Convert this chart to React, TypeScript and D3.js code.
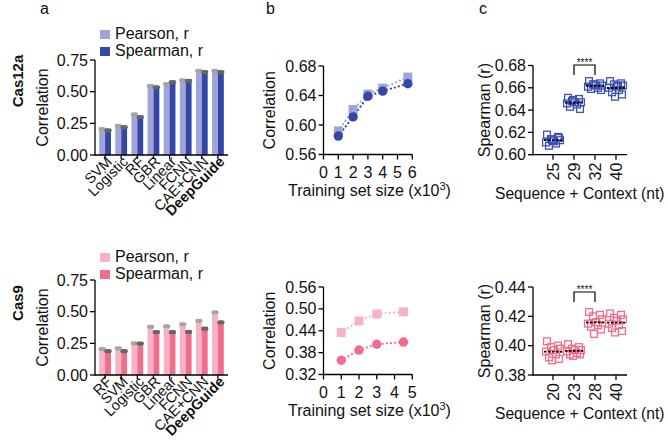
import React from 'react';
import * as d3 from 'd3';

const FONT = "'Liberation Sans', Arial, Helvetica, sans-serif";

// ---------- Panel a data ----------
const cas12aModels = ['SVM', 'Logistic', 'RF', 'GBR', 'Linear', 'FCNN', 'CAE+CNN', 'DeepGuide'];
const cas12aPearson = [0.205, 0.23, 0.32, 0.545, 0.56, 0.59, 0.665, 0.665];
const cas12aSpearman = [0.195, 0.22, 0.30, 0.535, 0.575, 0.585, 0.655, 0.655];
const cas9Models = ['RF', 'SVM', 'Logistic', 'GBR', 'Linear', 'FCNN', 'CAE+CNN', 'DeepGuide'];
const cas9Pearson = [0.205, 0.21, 0.25, 0.38, 0.385, 0.40, 0.428, 0.495];
const cas9Spearman = [0.188, 0.188, 0.248, 0.338, 0.338, 0.34, 0.366, 0.415];
const barTicks = [0, 0.25, 0.5, 0.75];
const legendLabels = ['Pearson, r', 'Spearman, r'];

// ---------- Panel b data ----------
const cas12aSizes = [1, 2, 3, 4, 5.7];
const cas12aSizePearson = [0.592, 0.621, 0.642, 0.65, 0.665];
const cas12aSizeSpearman = [0.585, 0.611, 0.639, 0.646, 0.656];
const cas9Sizes = [1, 2, 3, 4.5];
const cas9SizePearson = [0.435, 0.467, 0.486, 0.492];
const cas9SizeSpearman = [0.359, 0.387, 0.403, 0.409];
const cas12aSizeYTicks = [0.56, 0.6, 0.64, 0.68];
const cas9SizeYTicks = [0.32, 0.38, 0.44, 0.5, 0.56];
const cas12aSizeXTicks = [0, 1, 2, 3, 4, 5, 6];
const cas9SizeXTicks = [0, 1, 2, 3, 4, 5];

// ---------- Panel c data ----------
const cas12aLengths = ['25', '29', '32', '40'];
const cas12aLen25 = [0.618, 0.616, 0.614, 0.613, 0.612, 0.611, 0.61, 0.608, 0.615, 0.613];
const cas12aLen29 = [0.651, 0.65, 0.648, 0.647, 0.647, 0.646, 0.645, 0.643, 0.641, 0.649];
const cas12aLen32 = [0.666, 0.664, 0.663, 0.662, 0.662, 0.661, 0.66, 0.659, 0.658, 0.663];
const cas12aLen40 = [0.666, 0.664, 0.663, 0.662, 0.661, 0.66, 0.658, 0.656, 0.654, 0.652, 0.662];
const cas9Lengths = ['20', '23', '28', '40'];
const cas9Len20 = [0.403, 0.4, 0.399, 0.398, 0.397, 0.396, 0.394, 0.392, 0.391, 0.39];
const cas9Len23 = [0.401, 0.399, 0.398, 0.397, 0.397, 0.396, 0.395, 0.394, 0.394, 0.393];
const cas9Len28 = [0.423, 0.421, 0.42, 0.418, 0.416, 0.415, 0.414, 0.413, 0.411, 0.408];
const cas9Len40 = [0.422, 0.421, 0.419, 0.418, 0.417, 0.415, 0.414, 0.412, 0.41, 0.409];
const cas12aLenYTicks = [0.6, 0.62, 0.64, 0.66, 0.68];
const cas9LenYTicks = [0.38, 0.4, 0.42, 0.44];

const BLUE_LIGHT = '#9ea6d8';
const BLUE_DARK = '#3546a8';
const PINK_LIGHT = '#f7b3c4';
const PINK_DARK = '#f06d8b';

const jitter = [-6, 5, -2, 7, 1, -7, 3, -4, 6, -1, 2];

function YAxis({ x, scale, ticks, fmt }: any) {
  const [r0, r1] = scale.range();
  return (
    <g>
      <line x1={x} x2={x} y1={r0 + 0.6} y2={r1} stroke="#000" strokeWidth={1.3} />
      {ticks.map((t: number) => (
        <g key={t}>
          <line x1={x - 5} x2={x} y1={scale(t)} y2={scale(t)} stroke="#000" strokeWidth={1.3} />
          <text x={x - 7} y={scale(t)} dy="0.35em" textAnchor="end" fontSize={16} fontFamily={FONT} fill="#111">
            {fmt(t)}
          </text>
        </g>
      ))}
    </g>
  );
}

function PanelA({ models, pearson, spearman, light, dark, yTop, yBot, legendY }: any) {
  const x = d3.scaleBand<string>().domain(models).range([95, 228]).paddingInner(0.27).paddingOuter(0.26);
  const y = d3.scaleLinear().domain([0, 0.75]).range([yBot, yTop]);
  const bw = x.bandwidth() / 2;
  const fmt = d3.format('.2f');
  return (
    <g>
      {models.map((m: string, i: number) => {
        const x0 = x(m)!;
        return (
          <g key={m}>
            <rect x={x0} y={y(pearson[i])} width={bw} height={yBot - y(pearson[i])} fill={light} />
            <rect x={x0 + bw} y={y(spearman[i])} width={bw} height={yBot - y(spearman[i])} fill={dark} />
            {[-1.6, 0, 1.6].map((o) => (
              <circle key={'p' + o} cx={x0 + bw / 2 + o} cy={y(pearson[i])} r={2.1} fill="#a5a5a5" />
            ))}
            {[-1.6, 0, 1.6].map((o) => (
              <circle key={'s' + o} cx={x0 + bw * 1.5 + o} cy={y(spearman[i])} r={2.1} fill="#666" />
            ))}
          </g>
        );
      })}
      <line x1={95} x2={228} y1={yBot} y2={yBot} stroke="#000" strokeWidth={1.3} />
      {models.map((m: string) => (
        <line key={'t' + m} x1={x(m)! + bw} x2={x(m)! + bw} y1={yBot} y2={yBot + 4} stroke="#000" strokeWidth={1.3} />
      ))}
      <YAxis x={95} scale={y} ticks={barTicks} fmt={fmt} />
      {models.map((m: string, i: number) => (
        <text
          key={'l' + m}
          transform={`translate(${x(m)! + bw + 4},${yBot + 4}) rotate(-45)`}
          textAnchor="end"
          dy="0.35em"
          fontSize={14.5}
          fontWeight={i === models.length - 1 ? 'bold' : 'normal'}
          fontFamily={FONT}
          fill="#111"
        >
          {m}
        </text>
      ))}
      <text transform={`translate(48,${(yTop + yBot) / 2}) rotate(-90)`} textAnchor="middle" fontSize={16} fontFamily={FONT} fill="#111">
        Correlation
      </text>
      {legendLabels.map((lab, i) => (
        <g key={lab}>
          <rect x={100} y={legendY + i * 17} width={10} height={9} fill={i === 0 ? light : dark} />
          <text x={115} y={legendY + i * 17 + 9} fontSize={16} fontFamily={FONT} fill="#111">
            {lab}
          </text>
        </g>
      ))}
    </g>
  );
}

function PanelB({ sizes, pearson, spearman, light, dark, yTop, yBot, yDomain, yTicks, xMax, xTicks }: any) {
  const x = d3.scaleLinear().domain([0, xMax]).range([323.5, 412.3]);
  const y = d3.scaleLinear().domain(yDomain).range([yBot, yTop]);
  const line = d3.line<number>().x((_, i) => x(sizes[i])).y((d) => y(d));
  const fmt = d3.format('.2f');
  return (
    <g>
      <path d={line(pearson)!} fill="none" stroke={light} strokeWidth={2.2} strokeDasharray="0.1 4" strokeLinecap="round" />
      <path d={line(spearman)!} fill="none" stroke={dark} strokeWidth={2.2} strokeDasharray="0.1 4" strokeLinecap="round" />
      {pearson.map((v: number, i: number) => (
        <rect key={'p' + i} x={x(sizes[i]) - 4.5} y={y(v) - 4.5} width={9} height={9} fill={light} />
      ))}
      {spearman.map((v: number, i: number) => (
        <circle key={'s' + i} cx={x(sizes[i])} cy={y(v)} r={4.7} fill={dark} />
      ))}
      <line x1={x(0) - 0.6} x2={x(xMax)} y1={yBot} y2={yBot} stroke="#000" strokeWidth={1.3} />
      {xTicks.map((t: number) => (
        <g key={t}>
          <line x1={x(t)} x2={x(t)} y1={yBot} y2={yBot + 5} stroke="#000" strokeWidth={1.3} />
          <text x={x(t)} y={yBot + 23} textAnchor="middle" fontSize={16} fontFamily={FONT} fill="#111">
            {t}
          </text>
        </g>
      ))}
      <YAxis x={x(0)} scale={y} ticks={yTicks} fmt={fmt} />
      <text transform={`translate(275,${(yTop + yBot) / 2}) rotate(-90)`} textAnchor="middle" fontSize={16} fontFamily={FONT} fill="#111">
        Correlation
      </text>
      <text x={288} y={yBot + 41} fontSize={16} fontFamily={FONT} fill="#111">
        Training set size (x10<tspan dy={-6} fontSize={11}>3</tspan>
        <tspan dy={6}>)</tspan>
      </text>
    </g>
  );
}

function PanelC({ cats, groups, color, yTop, yBot, yDomain, yTicks, bracketY }: any) {
  const x = d3.scalePoint<string>().domain(cats).range([553, 616]);
  const y = d3.scaleLinear().domain(yDomain).range([yBot, yTop]);
  const fmt = d3.format('.2f');
  const axisX = 533;
  return (
    <g>
      {groups.map((vals: number[], gi: number) => {
        const cx = x(cats[gi])!;
        const mean = d3.mean(vals)!;
        return (
          <g key={gi}>
            {vals.map((v, i) => (
              <rect
                key={i}
                x={cx + jitter[i % jitter.length] - 3.4}
                y={y(v) - 3.4}
                width={6.8}
                height={6.8}
                fill="none"
                stroke={color}
                strokeWidth={1.3}
              />
            ))}
            <line x1={cx - 9} x2={cx + 9} y1={y(mean)} y2={y(mean)} stroke="#000" strokeWidth={1.8} strokeDasharray="2.5 1.5" />
          </g>
        );
      })}
      <line x1={axisX - 0.6} x2={627} y1={yBot} y2={yBot} stroke="#000" strokeWidth={1.3} />
      {cats.map((c: string) => (
        <g key={c}>
          <line x1={x(c)} x2={x(c)} y1={yBot} y2={yBot + 5} stroke="#000" strokeWidth={1.3} />
          <text transform={`translate(${x(c)! + 5.8},${yBot + 8}) rotate(-90)`} textAnchor="end" fontSize={16} fontFamily={FONT} fill="#111">
            {c}
          </text>
        </g>
      ))}
      <YAxis x={axisX} scale={y} ticks={yTicks} fmt={fmt} />
      <text transform={`translate(490,${(yTop + yBot) / 2}) rotate(-90)`} textAnchor="middle" fontSize={16} fontFamily={FONT} fill="#111">
        Spearman (r)
      </text>
      <text x={495} y={yBot + 44} fontSize={15.6} fontFamily={FONT} fill="#111">
        Sequence + Context (nt)
      </text>
      <path
        d={`M${x(cats[1])},${bracketY + 10} V${bracketY} H${x(cats[2])} V${bracketY + 10}`}
        fill="none"
        stroke="#000"
        strokeWidth={1.2}
      />
      <text x={(x(cats[1])! + x(cats[2])!) / 2} y={bracketY + 1} textAnchor="middle" fontSize={10} fontFamily={FONT} fill="#111">
        ****
      </text>
    </g>
  );
}

export default function App() {
  return (
    <svg width={668} height={440} style={{ position: 'absolute', left: 0, top: 0, background: '#fff' }}>
      <rect width={668} height={440} fill="#fff" />
      <text x={40} y={14} fontSize={16} fontFamily={FONT} fill="#111">a</text>
      <text x={266} y={14} fontSize={16} fontFamily={FONT} fill="#111">b</text>
      <text x={479} y={14} fontSize={16} fontFamily={FONT} fill="#111">c</text>
      <text transform="translate(23,81) rotate(-90)" textAnchor="middle" fontSize={15} fontWeight="bold" fontFamily={FONT} fill="#111">
        Cas12a
      </text>
      <text transform="translate(23,303) rotate(-90)" textAnchor="middle" fontSize={15} fontWeight="bold" fontFamily={FONT} fill="#111">
        Cas9
      </text>

      <PanelA models={cas12aModels} pearson={cas12aPearson} spearman={cas12aSpearman} light={BLUE_LIGHT} dark={BLUE_DARK} yTop={60} yBot={155} legendY={30} />
      <PanelA models={cas9Models} pearson={cas9Pearson} spearman={cas9Spearman} light={PINK_LIGHT} dark={PINK_DARK} yTop={280} yBot={375} legendY={253} />

      <PanelB sizes={cas12aSizes} pearson={cas12aSizePearson} spearman={cas12aSizeSpearman} light={BLUE_LIGHT} dark={BLUE_DARK} yTop={66} yBot={154.5} yDomain={[0.56, 0.68]} yTicks={cas12aSizeYTicks} xMax={6} xTicks={cas12aSizeXTicks} />
      <PanelB sizes={cas9Sizes} pearson={cas9SizePearson} spearman={cas9SizeSpearman} light={PINK_LIGHT} dark={PINK_DARK} yTop={287} yBot={374.5} yDomain={[0.32, 0.56]} yTicks={cas9SizeYTicks} xMax={5} xTicks={cas9SizeXTicks} />

      <PanelC cats={cas12aLengths} groups={[cas12aLen25, cas12aLen29, cas12aLen32, cas12aLen40]} color="#3f51b5" yTop={65.5} yBot={154.7} yDomain={[0.6, 0.68]} yTicks={cas12aLenYTicks} bracketY={65} />
      <PanelC cats={cas9Lengths} groups={[cas9Len20, cas9Len23, cas9Len28, cas9Len40]} color={PINK_DARK} yTop={287} yBot={375} yDomain={[0.38, 0.44]} yTicks={cas9LenYTicks} bracketY={292} />
    </svg>
  );
}
